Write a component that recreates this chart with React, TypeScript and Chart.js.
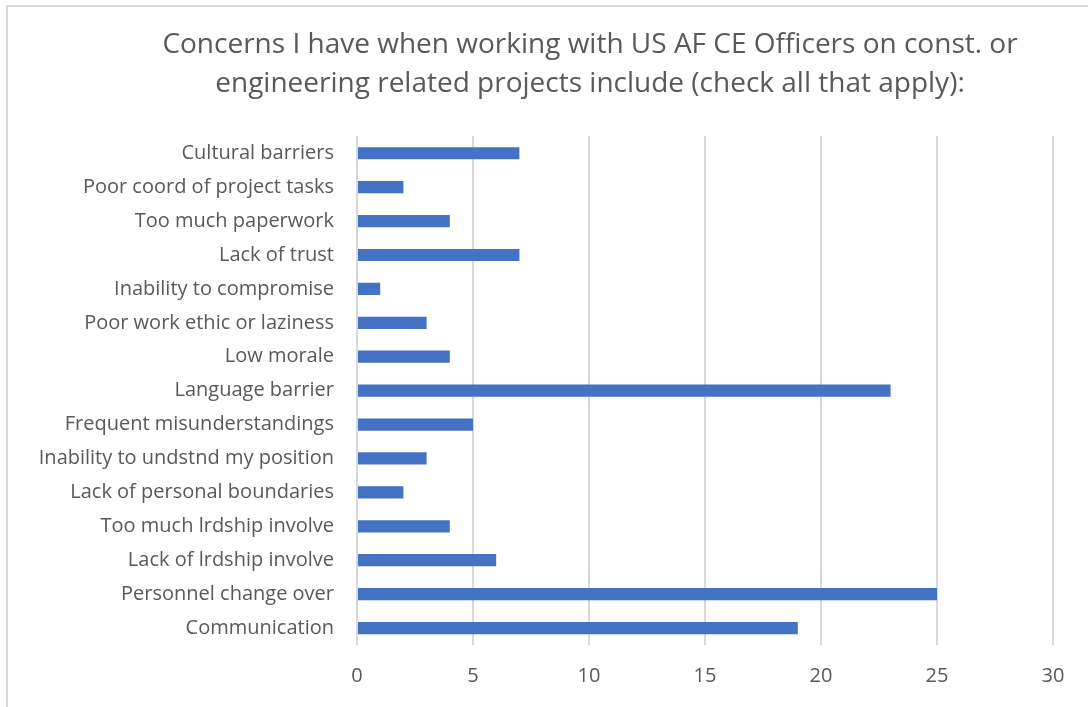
import React, { useEffect, useRef } from "react";
import { Chart, registerables } from "chart.js";

Chart.register(...registerables);

const categories = [
  "Cultural barriers",
  "Poor coord of project tasks",
  "Too much paperwork",
  "Lack of trust",
  "Inability to compromise",
  "Poor work ethic or laziness",
  "Low morale",
  "Language barrier",
  "Frequent misunderstandings",
  "Inability to undstnd my position",
  "Lack of personal boundaries",
  "Too much lrdship involve",
  "Lack of lrdship involve",
  "Personnel change over",
  "Communication",
];
const counts = [7, 2, 4, 7, 1, 3, 4, 23, 5, 3, 2, 4, 6, 25, 19];
const titleLines = [
  "Concerns I have when working with US AF CE Officers on const. or",
  "engineering related projects include (check all that apply):",
];
const xMin = 0;
const xMax = 30;
const xStep = 5;

const titleShift = {
  id: "titleShift",
  afterLayout(chart: any) {
    const t = chart.titleBlock;
    if (t) {
      t.left = 127;
      t.right = 1053;
    }
  },
};

export default function App() {
  const ref = useRef<HTMLCanvasElement>(null);
  useEffect(() => {
    if (!ref.current) return;
    const font = "'Open Sans', 'Noto Sans', sans-serif";
    const chart = new Chart(ref.current, {
      type: "bar",
      data: {
        labels: categories,
        datasets: [
          {
            data: counts,
            backgroundColor: "#4472C4",
            borderWidth: 0,
            barPercentage: 0.36,
            categoryPercentage: 1,
          },
        ],
      },
      options: {
        indexAxis: "y",
        responsive: false,
        animation: false,
        layout: { padding: { left: 20, right: 35, top: 26, bottom: 0 } },
        plugins: {
          legend: { display: false },
          tooltip: { enabled: false },
          title: {
            display: true,
            text: titleLines,
            color: "#595959",
            font: { family: font, size: 28, weight: "normal", lineHeight: 1.38 },
            padding: { top: 0, bottom: 33 },
          },
        },
        scales: {
          x: {
            min: xMin,
            max: xMax,
            ticks: {
              stepSize: xStep,
              color: "#595959",
              font: { family: font, size: 20 },
              padding: 19,
            },
            grid: { color: "#d9d9d9", lineWidth: 2, drawTicks: false },
            border: { display: false },
          },
          y: {
            ticks: {
              color: "#595959",
              font: { family: font, size: 20 },
              padding: 23,
              autoSkip: false,
            },
            grid: { display: false, drawTicks: false },
            border: { display: false },
            afterFit: (scale: any) => {
              scale.width = 337;
            },
          },
        },
      },
      plugins: [titleShift],
    });
    return () => chart.destroy();
  }, []);
  return (
    <div style={{ position: "fixed", left: 0, top: 0, width: 1088, height: 707, background: "#fff", overflow: "hidden" }}>
      <div
        style={{
          position: "absolute",
          left: 6,
          top: 5,
          width: 1200,
          height: 800,
          border: "2px solid #d9d9d9",
          boxSizing: "border-box",
        }}
      />
      <canvas ref={ref} width={1088} height={707} style={{ position: "absolute", left: 0, top: 0 }} />
    </div>
  );
}
